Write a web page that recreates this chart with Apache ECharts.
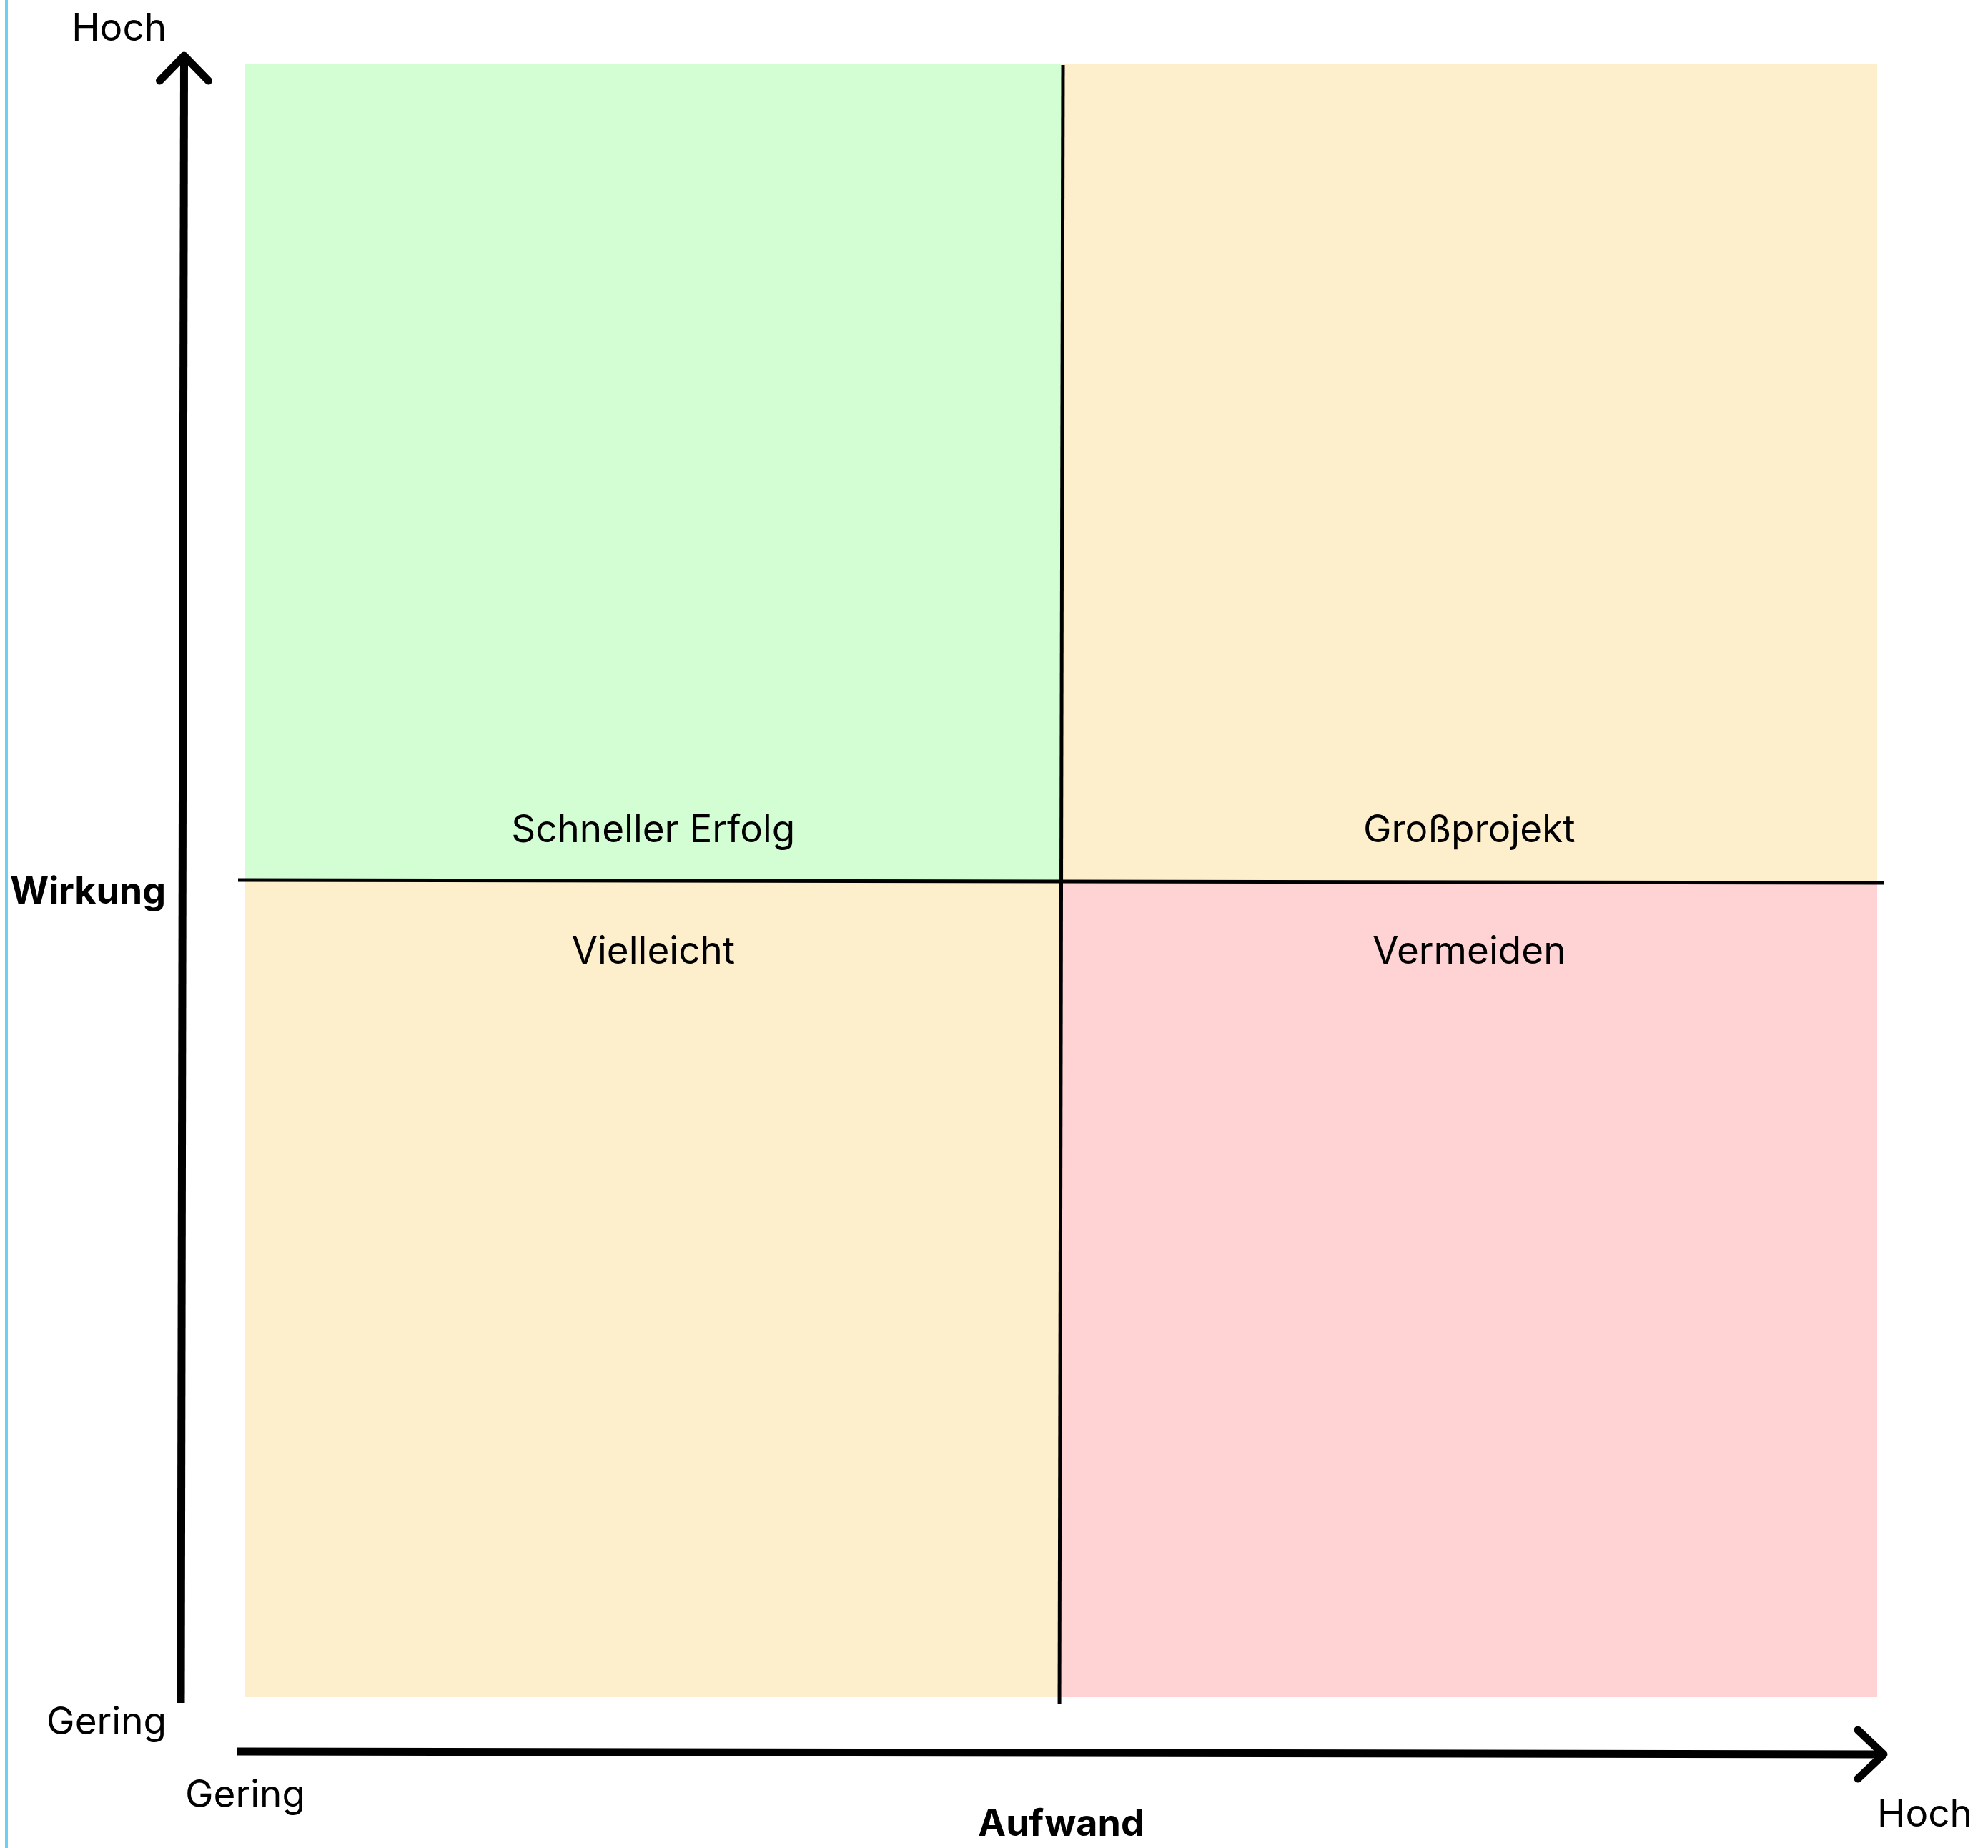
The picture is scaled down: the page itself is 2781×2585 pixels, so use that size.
<!DOCTYPE html>
<html>
<head>
<meta charset="utf-8">
<script src="https://cdn.jsdelivr.net/npm/echarts@6/dist/echarts.min.js"></script>
<style>
  html, body { margin: 0; padding: 0; background: #ffffff; }
  #chart { width: 2781px; height: 2585px; }
</style>
</head>
<body>
<div id="chart"></div>
<script>
// ---- data ----
const quadrantNames = ['Schneller Erfolg', 'Großprojekt', 'Vielleicht', 'Vermeiden'];
const quadrantEffort = [[0, 1], [1, 2], [0, 1], [1, 2]];   // Aufwand range (x)
const quadrantImpact = [[1, 2], [1, 2], [0, 1], [0, 1]];   // Wirkung range (y)
const quadrantColors = ['#D3FED4', '#FDEFCC', '#FDEFCC', '#FFD2D4'];
const xTickLabels = ['Gering', 'Hoch'];
const yTickLabels = ['Gering', 'Hoch'];
const xAxisName = 'Aufwand';
const yAxisName = 'Wirkung';

const FONT = 'Inter, "Noto Sans", sans-serif';
const FS = 53;
const FSB = 52;

const quadrantData = quadrantNames.map((n, i) => ({
  name: n,
  value: [quadrantEffort[i][0], quadrantEffort[i][1], quadrantImpact[i][0], quadrantImpact[i][1]]
}));

const chart = echarts.init(document.getElementById('chart'), null, { renderer: 'canvas' });

const option = {
  animation: false,
  backgroundColor: '#ffffff',
  grid: { left: 343, right: 155, top: 90, bottom: 211, containLabel: false, outerBoundsMode: 'none' },
  xAxis: {
    type: 'value', min: 0, max: 2, interval: 2,
    axisLine: { show: false }, axisTick: { show: false }, splitLine: { show: false },
    axisLabel: {
      margin: 112,
      alignMinLabel: 'center', alignMaxLabel: 'left',
      formatter: v => v === 0 ? '{lo|' + xTickLabels[0] + '}' : '{hi|' + xTickLabels[1] + '}',
      rich: {
        lo: { fontFamily: FONT, fontSize: FS, color: '#000' },
        hi: { fontFamily: FONT, fontSize: FS, color: '#000', padding: [27, 0, 0, 0] }
      }
    },
    name: xAxisName, nameLocation: 'middle', nameGap: 152, nameMoveOverlap: false,
    nameTextStyle: { fontFamily: FONT, fontSize: FSB, fontWeight: 'bold', color: '#000' }
  },
  yAxis: {
    type: 'value', min: 0, max: 2, interval: 2,
    axisLine: { show: false }, axisTick: { show: false }, splitLine: { show: false },
    axisLabel: {
      margin: 110,
      formatter: v => v === 0 ? '{lo|' + yTickLabels[0] + '}' : '{hi|' + yTickLabels[1] + '}',
      rich: {
        lo: { fontFamily: FONT, fontSize: FS, color: '#000', padding: [72, 0, 0, 0] },
        hi: { fontFamily: FONT, fontSize: FS, color: '#000', padding: [0, 0, 98, 0] }
      }
    },
    name: yAxisName, nameLocation: 'middle', nameGap: 111, nameRotate: 0, nameMoveOverlap: false,
    nameTextStyle: { fontFamily: FONT, fontSize: FSB, fontWeight: 'bold', color: '#000',
                     verticalAlign: 'top', lineHeight: 32 }
  },
  graphic: [
    { type: 'rect', shape: { x: 7, y: 0, width: 4, height: 2585 }, style: { fill: '#6DCFF4' }, silent: true }
  ],
  series: [
    {
      type: 'custom',
      name: 'quadrants',
      clip: false,
      data: quadrantData,
      encode: { x: [0, 1], y: [2, 3] },
      renderItem: function (params, api) {
        const p0 = api.coord([api.value(0), api.value(3)]);
        const p1 = api.coord([api.value(1), api.value(2)]);
        const mid = api.coord([1, 1]);
        const isTop = api.value(2) >= 1;
        const cx = (p0[0] + p1[0]) / 2;
        const ty = isTop ? mid[1] - 70 : mid[1] + 100;
        return {
          type: 'group',
          children: [
            { type: 'rect', shape: { x: p0[0], y: p0[1], width: p1[0] - p0[0], height: p1[1] - p0[1] },
              style: { fill: quadrantColors[params.dataIndex] } },
            { type: 'text', z2: 10,
              style: { text: quadrantNames[params.dataIndex], x: cx, y: ty, align: 'center', verticalAlign: 'middle',
                       fontFamily: FONT, fontSize: FS, fill: '#000' } }
          ]
        };
      }
    },
    {
      type: 'custom',
      name: 'lines',
      clip: false,
      data: [[1, 1]],
      renderItem: function (params, api) {
        const lb = api.coord([0, 0]);
        const rt = api.coord([2, 2]);
        const mid = api.coord([api.value(0), api.value(1)]);
        const blk = '#000';
        const yTip = [lb[0] - 85.5, rt[1] - 12];
        const xTip = [rt[0] + 9, lb[1] + 80];
        return {
          type: 'group',
          children: [
            // midlines
            { type: 'line', shape: { x1: lb[0] - 10, y1: mid[1] - 1, x2: rt[0] + 10, y2: mid[1] + 3 },
              style: { stroke: blk, lineWidth: 5 } },
            { type: 'line', shape: { x1: mid[0] + 2.5, y1: rt[1] + 1, x2: mid[0] - 2.5, y2: lb[1] + 10 },
              style: { stroke: blk, lineWidth: 5 } },
            // y arrow
            { type: 'line', shape: { x1: lb[0] - 90, y1: lb[1] + 8, x2: yTip[0], y2: yTip[1] + 3 },
              style: { stroke: blk, lineWidth: 11 } },
            { type: 'polyline', shape: { points: [[yTip[0] - 34, yTip[1] + 35], yTip, [yTip[0] + 34, yTip[1] + 35]] },
              style: { stroke: blk, lineWidth: 11, lineCap: 'round', lineJoin: 'round', fill: null } },
            // x arrow
            { type: 'line', shape: { x1: lb[0] - 12, y1: lb[1] + 76, x2: xTip[0] - 3, y2: xTip[1] },
              style: { stroke: blk, lineWidth: 11 } },
            { type: 'polyline', shape: { points: [[xTip[0] - 36, xTip[1] - 34], xTip, [xTip[0] - 36, xTip[1] + 34]] },
              style: { stroke: blk, lineWidth: 11, lineCap: 'round', lineJoin: 'round', fill: null } }
          ]
        };
      }
    }
  ]
};
chart.setOption(option);
</script>
</body>
</html>
